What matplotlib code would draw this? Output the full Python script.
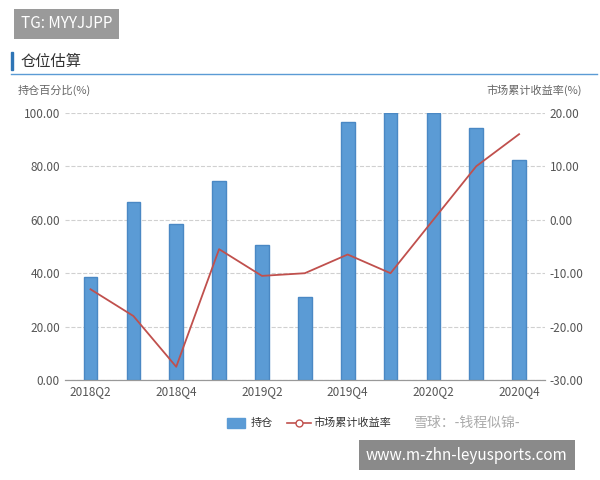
import matplotlib.pyplot as plt
import numpy as np

plt.rcParams['font.family'] = ['Noto Sans CJK SC', 'DejaVu Sans']

quarters = ['2018Q2', '2018Q3', '2018Q4', '2019Q1', '2019Q2', '2019Q3',
            '2019Q4', '2020Q1', '2020Q2', '2020Q3', '2020Q4']
position = [38.5, 66.5, 58.5, 74.5, 50.5, 31.0, 96.5, 100.0, 100.0, 94.5, 82.5]
market_ret = [-13.0, -18.0, -27.5, -5.5, -10.5, -10.0, -6.5, -10.0, 0.0, 10.0, 16.0]

fig = plt.figure(figsize=(6, 4.8), dpi=100)
ax = fig.add_axes([0.108, 0.208, 0.8, 0.557])
ax2 = ax.twinx()

x = np.arange(len(quarters))
ax.bar(x, position, width=0.32, color='#5b9bd5', edgecolor='#4a88c4', zorder=2)
ax2.plot(x, market_ret, color='#c0504d', lw=1.3, zorder=3)

ax.set_ylim(0, 100)
ax.set_yticks(np.arange(0, 101, 20))
ax.set_yticklabels([f'{v:.2f}' for v in np.arange(0, 101, 20)])
ax2.set_ylim(-30, 20)
ax2.set_yticks(np.arange(-30, 21, 10))
ax2.set_yticklabels([f'{v:.2f}' for v in np.arange(-30, 21, 10)])
ax.set_xlim(-0.6, len(quarters) - 0.4)
ax.set_xticks(x[::2])
ax.set_xticklabels(quarters[::2])
ax.grid(axis='y', ls='--', color='#d0d0d0', zorder=0)
for a in (ax, ax2):
    for s in ['top', 'left', 'right']:
        a.spines[s].set_visible(False)
    a.spines['bottom'].set_color('#999999')
    a.tick_params(length=0, labelsize=8.5, colors='#555555')

fig.text(0.03, 0.805, '持仓百分比(%)', fontsize=8, color='#666666')
fig.text(0.97, 0.805, '市场累计收益率(%)', fontsize=8, color='#666666', ha='right')

# title
fig.text(0.035, 0.873, '仓位估算', fontsize=11, color='#333333', va='center')
fig.patches.append(plt.Rectangle((0.018, 0.855), 0.004, 0.036, transform=fig.transFigure, color='#2e75b6'))
fig.add_artist(plt.Line2D([0.018, 0.995], [0.845, 0.845], color='#5b9bd5', lw=1))

# legend
fig.patches.append(plt.Rectangle((0.378, 0.108), 0.03, 0.022, transform=fig.transFigure,
                                 color='#5b9bd5'))
fig.text(0.418, 0.119, '持仓', fontsize=8, va='center', color='#333333')
fig.add_artist(plt.Line2D([0.478, 0.518], [0.119, 0.119], color='#c0504d', lw=1.2))
fig.add_artist(plt.Line2D([0.498], [0.119], marker='o', mfc='white', mec='#c0504d', ms=5))
fig.text(0.523, 0.119, '市场累计收益率', fontsize=8, va='center', color='#333333')
fig.text(0.69, 0.119, '雪球：-钱程似锦-', fontsize=10, va='center', color='#aaaaaa')

# overlay labels
fig.text(0.035, 0.95, 'TG: MYYJJPP', fontsize=11, color='white', va='center',
         bbox=dict(boxstyle='square,pad=0.45', fc='#9a9a9a', ec='none'))
fig.text(0.61, 0.052, 'www.m-zhn-leyusports.com', fontsize=11, color='white', va='center',
         bbox=dict(boxstyle='square,pad=0.45', fc='#8a8a8a', ec='none'))

fig.savefig('out.png')
